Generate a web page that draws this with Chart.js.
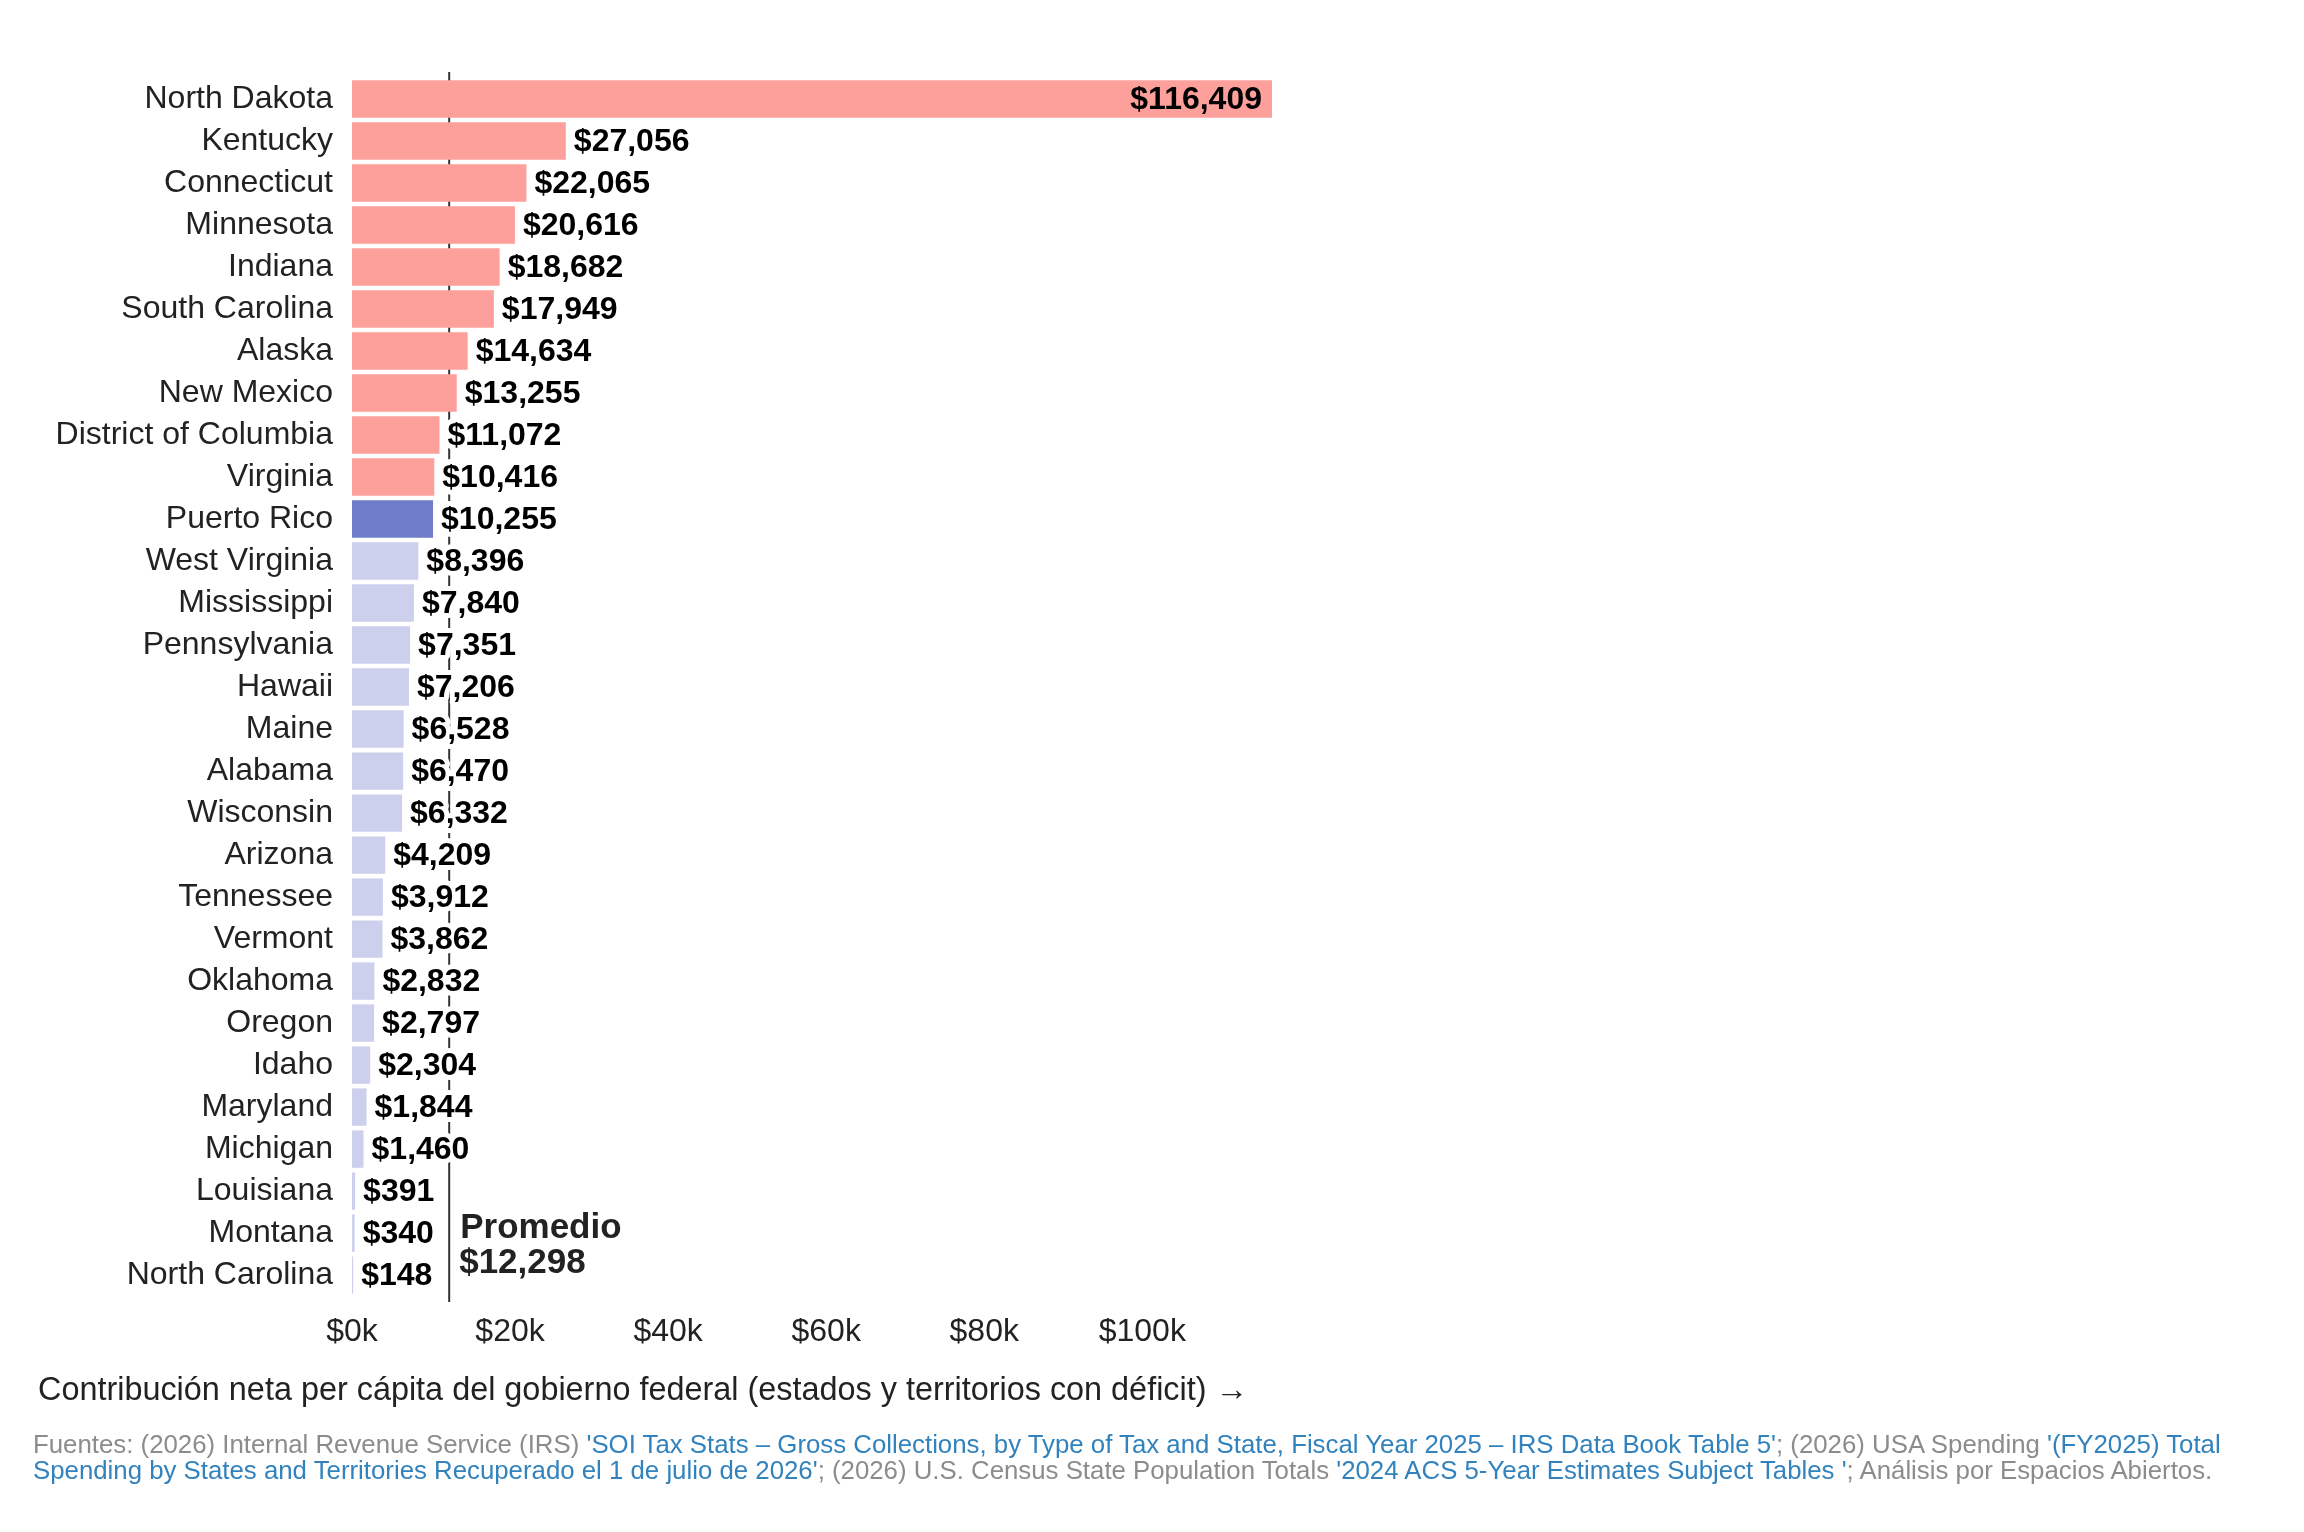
<!DOCTYPE html>
<html lang="es">
<head>
<meta charset="utf-8">
<title>Contribución neta per cápita del gobierno federal</title>
<script src="https://cdn.jsdelivr.net/npm/chart.js@4.4.1/dist/chart.umd.min.js"></script>
<style>
    html, body { margin: 0; padding: 0; background: #fff; }
    #wrap { position: relative; width: 2304px; height: 1532px; }
    #fuentes {
        position: absolute; left: 33px; top: 1431px;
        font: 25.8px "Liberation Sans", Arial, sans-serif; line-height: 26px;
        color: #8c8c8c; white-space: nowrap;
    }
    #fuentes a { color: #3182bd; text-decoration: none; }
</style>
</head>
<body>
<div id="wrap">
    <canvas id="grafico"></canvas>
    <div id="fuentes">Fuentes: (2026) Internal Revenue Service (IRS) <a href="#">'SOI Tax Stats – Gross Collections, by Type of Tax and State, Fiscal Year 2025 – IRS Data Book Table 5'</a>; (2026) USA Spending <a href="#">'(FY2025) Total<br>Spending by States and Territories Recuperado el 1 de julio de 2026'</a>; (2026) U.S. Census State Population Totals <a href="#">'2024 ACS 5-Year Estimates Subject Tables '</a>; Análisis por Espacios Abiertos.</div>
</div>
<script>
// Datos: contribución neta per cápita (estados y territorios con déficit)
const estados = [
    "North Dakota", "Kentucky", "Connecticut", "Minnesota", "Indiana",
    "South Carolina", "Alaska", "New Mexico", "District of Columbia", "Virginia",
    "Puerto Rico", "West Virginia", "Mississippi", "Pennsylvania", "Hawaii",
    "Maine", "Alabama", "Wisconsin", "Arizona", "Tennessee",
    "Vermont", "Oklahoma", "Oregon", "Idaho", "Maryland",
    "Michigan", "Louisiana", "Montana", "North Carolina"
];
const valores = [
    116409, 27056, 22065, 20616, 18682,
    17949, 14634, 13255, 11072, 10416,
    10255, 8396, 7840, 7351, 7206,
    6528, 6470, 6332, 4209, 3912,
    3862, 2832, 2797, 2304, 1844,
    1460, 391, 340, 148
];
const promedio = 12298;
const destacado = "Puerto Rico";
const marcasX = [0, 20000, 40000, 60000, 80000, 100000];
const tituloEje = "Contribución neta per cápita del gobierno federal (estados y territorios con déficit) →";

const colorAlto = "#fda09c";
const colorDestacado = "#6f7cc9";
const colorBajo = "#cdd0ec";
const fuente = '"Liberation Sans", Arial, Helvetica, sans-serif';

Chart.defaults.font.family = fuente;

// Colores: por encima de Puerto Rico en rojo, Puerto Rico resaltado, el resto en lila
const valorDestacado = valores[estados.indexOf(destacado)];
const colores = valores.map((v, i) =>
    estados[i] === destacado ? colorDestacado : (v > valorDestacado ? colorAlto : colorBajo)
);

const dinero = (v) => "$" + v.toLocaleString("en-US");

// Línea del promedio (detrás de las barras) y etiquetas
const promedioPlugin = {
    id: "promedio",
    beforeDatasetsDraw(chart) {
        const ctx = chart.ctx;
        const area = chart.chartArea;
        const x = chart.scales.x.getPixelForValue(promedio);
        ctx.save();
        ctx.strokeStyle = "#333";
        ctx.lineWidth = 2;
        ctx.beginPath();
        ctx.moveTo(x, area.top - 6);
        ctx.lineTo(x, area.bottom + 6);
        ctx.stroke();
        ctx.restore();
    },
    afterDatasetsDraw(chart) {
        const ctx = chart.ctx;
        const area = chart.chartArea;
        const meta = chart.getDatasetMeta(0);
        ctx.save();
        ctx.font = "bold 32px " + fuente;
        ctx.textBaseline = "alphabetic";
        ctx.lineJoin = "round";
        meta.data.forEach((barra, i) => {
            const texto = dinero(valores[i]);
            const w = ctx.measureText(texto).width;
            const y = barra.y + 10;
            if (barra.x + 8 + w > area.right) {
                ctx.textAlign = "right";
                ctx.fillStyle = "#000";
                ctx.fillText(texto, barra.x - 10, y);
            } else {
                ctx.textAlign = "left";
                ctx.strokeStyle = "#fff";
                ctx.lineWidth = 10;
                ctx.strokeText(texto, barra.x + 8, y);
                ctx.fillStyle = "#000";
                ctx.fillText(texto, barra.x + 8, y);
            }
        });

        const x = chart.scales.x.getPixelForValue(promedio);
        ctx.font = "bold 35px " + fuente;
        ctx.textAlign = "left";
        ctx.fillStyle = "#222";
        ctx.fillText("Promedio", x + 11, area.bottom - 58);
        ctx.fillText(dinero(promedio), x + 10, area.bottom - 23);
        ctx.restore();
    },
};

new Chart(document.getElementById("grafico"), {
    type: "bar",
    data: {
        labels: estados,
        datasets: [
            {
                data: valores,
                backgroundColor: colores,
                borderWidth: 0,
                barPercentage: 0.89,
                categoryPercentage: 1,
            },
        ],
    },
    options: {
        indexAxis: "y",
        responsive: true,
        maintainAspectRatio: false,
        animation: false,
        layout: {
            padding: { top: 78, left: 38, right: 1032, bottom: 121 },
        },
        scales: {
            x: {
                type: "linear",
                min: 0,
                max: Math.max(...valores),
                grid: { display: false, drawTicks: false },
                border: { display: false },
                ticks: {
                    padding: 17,
                    color: "#222",
                    font: { size: 32 },
                    maxRotation: 0,
                    autoSkip: false,
                    callback: (v) => "$" + v / 1000 + "k",
                },
                afterBuildTicks: (scale) => {
                    scale.ticks = marcasX.map((v) => ({ value: v }));
                },
                afterFit: (scale) => {
                    scale.height = 60;
                },
            },
            y: {
                grid: { display: false, drawTicks: false },
                border: { display: false },
                ticks: {
                    padding: 19,
                    color: "#222",
                    font: { size: 32 },
                    autoSkip: false,
                },
                afterFit: (scale) => {
                    scale.width = 314;
                },
            },
        },
        plugins: {
            legend: { display: false },
            tooltip: { enabled: false },
            title: {
                display: true,
                position: "bottom",
                align: "start",
                text: tituloEje,
                color: "#222",
                font: { size: 32.4, weight: "normal" },
                padding: { top: 16, bottom: 0 },
            },
        },
    },
    plugins: [promedioPlugin],
});
</script>
</body>
</html>
